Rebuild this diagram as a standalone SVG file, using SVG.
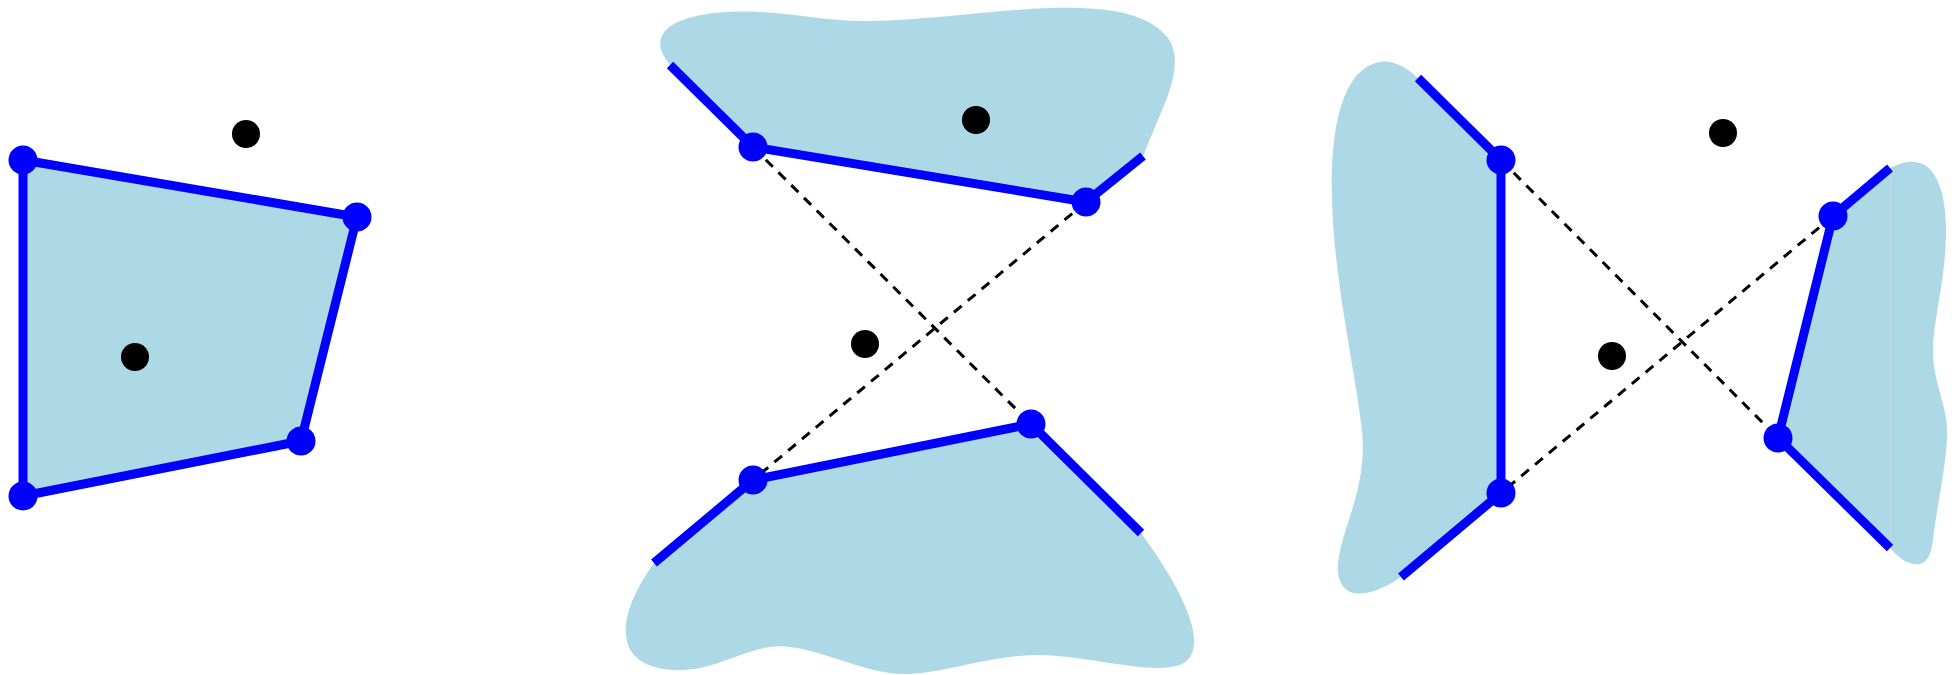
<svg xmlns="http://www.w3.org/2000/svg" width="1958" height="675" viewBox="0 0 1958 675">
<style>
.fill{fill:#ADD8E6;stroke:none}
.edge{stroke:#0000FF;stroke-width:9;fill:none;stroke-linecap:butt;stroke-linejoin:round}
.dash{stroke:#000;stroke-width:3;fill:none;stroke-dasharray:10 8}
.v{fill:#0000FF}
.p{fill:#000}
</style>
<rect width="1958" height="675" fill="#fff"/>
<g id="regions">
<polygon class="fill" points="23,160 357,217 301,441 23,496"/>
<path class="fill" d="M670,65 C660,52 655,40 668,28 C685,14 725,10 760,12 C800,14 830,22 870,21 C930,20 990,10 1050,8 C1110,6 1150,14 1168,38 C1182,58 1172,88 1160,115 L1143,156 L1086,202 L753,147 Z"/>
<path class="fill" d="M654,563 C635,590 620,620 628,645 C636,668 670,674 700,668 C730,662 760,642 790,647 C830,652 870,676 910,674 C950,672 990,655 1040,655 C1090,656 1150,675 1180,665 C1210,652 1190,600 1141,533 L1031,424 L753,480 Z"/>
<path class="fill" d="M1418,78 C1405,66 1392,60 1380,62 C1345,68 1330,120 1332,200 C1334,280 1355,370 1362,430 C1368,490 1340,530 1338,565 C1336,595 1360,605 1401,577 L1501,493 L1501,160 Z"/>
<polygon class="fill" points="1890.3,168 1833,216 1778,438 1890.3,548"/>
<path class="fill" d="M1890.3,168 C1898,164 1907,161 1915,162 C1935,164 1946,190 1946,230 C1946,280 1933,320 1933,350 C1933,385 1948,405 1947,435 C1946,470 1936,510 1933,540 C1930,565 1920,568 1905,561 C1898,557 1894,552 1890.3,548 Z"/>
</g>
<g id="connectors">
<line class="dash" x1="753" y1="147" x2="1031" y2="424"/>
<line class="dash" x1="1086" y1="202" x2="753" y2="480"/>
<line class="dash" x1="1501" y1="160" x2="1778" y2="438"/>
<line class="dash" x1="1833" y1="216" x2="1501" y2="493"/>
<polygon class="edge" points="23,160 357,217 301,441 23,496"/>
<polyline class="edge" points="670,65 753,147 1086,202 1143,156"/>
<polyline class="edge" points="654,563 753,480 1031,424 1141,533"/>
<polyline class="edge" points="1418,78 1501,160 1501,493 1401,577"/>
<polyline class="edge" points="1890,168 1833,216 1778,438 1890,548"/>
</g>
<g id="left-v1"><circle class="v" cx="23" cy="160" r="14.5"/></g>
<g id="left-v2"><circle class="v" cx="357" cy="217" r="14.5"/></g>
<g id="left-v3"><circle class="v" cx="301" cy="441" r="14.5"/></g>
<g id="left-v4"><circle class="v" cx="23" cy="496" r="14.5"/></g>
<g id="left-p1"><circle class="p" cx="246" cy="134" r="14"/></g>
<g id="left-p2"><circle class="p" cx="135" cy="357" r="14"/></g>
<g id="mid-v1"><circle class="v" cx="753" cy="147" r="14.5"/></g>
<g id="mid-v2"><circle class="v" cx="1086" cy="202" r="14.5"/></g>
<g id="mid-v3"><circle class="v" cx="1031" cy="424" r="14.5"/></g>
<g id="mid-v4"><circle class="v" cx="753" cy="480" r="14.5"/></g>
<g id="mid-p1"><circle class="p" cx="976" cy="120" r="14"/></g>
<g id="mid-p2"><circle class="p" cx="865" cy="344" r="14"/></g>
<g id="right-v1"><circle class="v" cx="1501" cy="160" r="14.5"/></g>
<g id="right-v2"><circle class="v" cx="1833" cy="216" r="14.5"/></g>
<g id="right-v3"><circle class="v" cx="1778" cy="438" r="14.5"/></g>
<g id="right-v4"><circle class="v" cx="1501" cy="493" r="14.5"/></g>
<g id="right-p1"><circle class="p" cx="1723" cy="133" r="14"/></g>
<g id="right-p2"><circle class="p" cx="1612" cy="356" r="14"/></g>
</svg>
